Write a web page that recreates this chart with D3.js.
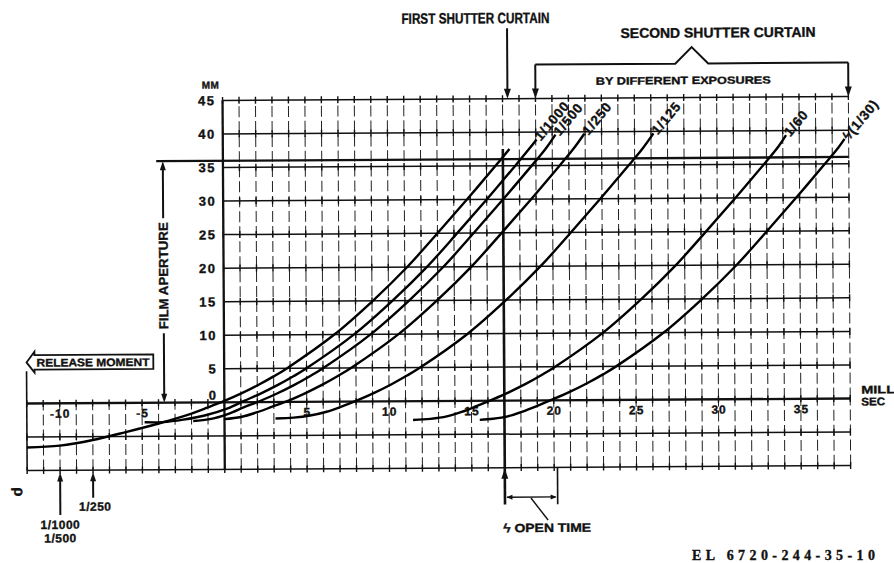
<!DOCTYPE html>
<html>
<head>
<meta charset="utf-8">
<script src="https://cdnjs.cloudflare.com/ajax/libs/d3/7.8.5/d3.min.js"></script>
<style>
  body { margin: 0; background: #fff; }
  svg text { font-family: "Liberation Sans", Arial, sans-serif; font-weight: bold; fill: #111;
             stroke: #111; stroke-width: 0.35px; }
</style>
</head>
<body>
<div id="draw"></div>
<script>
let W = 894, H = 563;

// axis ticks
let xTickValues = [-10, -5, 5, 10, 15, 20, 25, 30, 35];
let yTickValues = [0, 5, 10, 15, 20, 25, 30, 35, 40, 45];
let gridRowsTop = [5, 10, 15, 20, 25, 30, 35, 40, 45];
let gridRowsBottom = [-5, -10];

// curtain travel, [millisec, mm]
let firstCurtain = [[-12, -6.55], [-10, -6.3], [-8, -5.5], [-6, -4.35], [-4, -3.1], [-2, -1.65], [-1, -0.75], [0, 0.2], [1, 1.27], [2, 2.47], [3, 3.82], [3.8, 5], [6.7, 10], [9.05, 15], [11.15, 20], [13, 25], [14.8, 30], [16.55, 35], [17.4, 37.5]];
let curve1000 = [[-4.85, -2.9], [-3.75, -2.9], [-2.5, -2.55], [-1.2, -1.95], [0.2, -0.9], [1.2, 0.2], [2.2, 1.27], [3.2, 2.47], [4.2, 3.82], [5, 5], [7.9, 10], [10.25, 15], [12.35, 20], [14.2, 25], [16, 30], [17.75, 35], [18.6, 37.5], [19.05, 38.9]];
let curve500 = [[-1.9, -2.75], [-0.9, -2.5], [0.2, -1.75], [1.2, -0.75], [2.2, 0.2], [3.2, 1.27], [4.2, 2.47], [5.2, 3.82], [6, 5], [8.9, 10], [11.25, 15], [13.35, 20], [15.2, 25], [17, 30], [18.75, 35], [19.6, 37.5], [20.2, 39.6]];
let curve250 = [[0, -2.5], [1, -2.2], [2, -1.5], [2.9, -0.7], [3.9, 0.2], [4.9, 1.27], [5.9, 2.47], [6.9, 3.82], [7.7, 5], [10.6, 10], [12.95, 15], [15.05, 20], [16.9, 25], [18.7, 30], [20.45, 35], [21.3, 37.5], [21.95, 39.7]];
let curve125 = [[3.1, -2.45], [4.2, -2.35], [5.2, -2.05], [6.2, -1.5], [7.1, -0.75], [8.1, 0.2], [9.1, 1.27], [10.1, 2.47], [11.1, 3.82], [11.9, 5], [14.8, 10], [17.15, 15], [19.25, 20], [21.1, 25], [22.9, 30], [24.65, 35], [25.5, 37.5], [26.15, 39.7]];
let curve60 = [[11.45, -2.8], [12.5, -2.65], [13.5, -2.3], [14.4, -1.65], [15.3, -0.8], [16.3, 0.2], [17.3, 1.27], [18.3, 2.47], [19.3, 3.82], [20.1, 5], [23, 10], [25.35, 15], [27.45, 20], [29.3, 25], [31.1, 30], [32.85, 35], [33.7, 37.5], [34.2, 39.3]];
let curve30 = [[15.5, -2.85], [16.3, -2.7], [17.2, -2.35], [18.1, -1.65], [19, -0.8], [20, 0.2], [21, 1.27], [22, 2.47], [23, 3.82], [23.8, 5], [26.7, 10], [29.05, 15], [31.15, 20], [33, 25], [34.8, 30], [36.55, 35], [37.4, 37.5], [37.75, 38.7]];
let secondCurtains = [curve1000, curve500, curve250, curve125, curve60, curve30];
let curveLabels = ['1/1000', '1/500', '1/250', '1/125', '1/60', 'ϟ(1/30)'];

let filmAperture = 36;       // mm
let firstCurtainTime = 17;   // ms, first curtain passes the aperture
let openTimeEnd = 20.2;
let releaseTimes = [-10, -8];
let releaseLabels = [['1/1000', '1/500'], ['1/250']];

let svg = d3.select('#draw').append('svg').attr('width', W).attr('height', H);
let x = d3.scaleLinear().domain([-12, 38]).range([26, 849.5]);
let y = d3.scaleLinear().domain([-10, 45]).range([467.5, 98.5]);

// the scan is a little tilted
let g = svg.append('g').attr('transform', 'rotate(-0.35, 536, 280)');
let ink = '#111';

let arrowHead = function(px, py, dir, len, wid) {
  len = len || 10; wid = wid || 4;
  let p;
  if(dir === 'down') p = [[px, py], [px - wid, py - len], [px + wid, py - len]];
  if(dir === 'up') p = [[px, py], [px - wid, py + len], [px + wid, py + len]];
  if(dir === 'left') p = [[px, py], [px + len, py - wid], [px + len, py + wid]];
  if(dir === 'right') p = [[px, py], [px - len, py - wid], [px - len, py + wid]];
  g.append('path').attr('d', 'M' + p.join('L') + 'Z').attr('fill', ink);
}

// broken vertical grid lines
g.selectAll('.vtop').data(d3.range(1, 39)).enter().append('line')
  .attr('x1', d => x(d)).attr('x2', d => x(d))
  .attr('y1', y(0)).attr('y2', y(45))
  .attr('stroke', '#222').attr('stroke-width', 1).attr('stroke-dasharray', '11,4');
g.selectAll('.vbot').data(d3.range(-11, 39)).enter().append('line')
  .attr('x1', d => x(d)).attr('x2', d => x(d))
  .attr('y1', y(-10)).attr('y2', y(0))
  .attr('stroke', '#222').attr('stroke-width', 1).attr('stroke-dasharray', '11,4');

// horizontal grid lines
g.selectAll('.htop').data(gridRowsTop).enter().append('line')
  .attr('x1', x(0)).attr('x2', x(38)).attr('y1', d => y(d)).attr('y2', d => y(d))
  .attr('stroke', ink).attr('stroke-width', 1.5);
g.selectAll('.hbot').data(gridRowsBottom).enter().append('line')
  .attr('x1', x(-12)).attr('x2', x(38)).attr('y1', d => y(d)).attr('y2', d => y(d))
  .attr('stroke', ink).attr('stroke-width', 1.5);

// little + marks on every row
let marks = [];
gridRowsTop.forEach(r => d3.range(0, 39).forEach(c => marks.push([c, r])));
gridRowsBottom.concat([0]).forEach(r => d3.range(-12, 39).forEach(c => marks.push([c, r])));
g.selectAll('.mk').data(marks).enter().append('line')
  .attr('x1', d => x(d[0])).attr('x2', d => x(d[0]))
  .attr('y1', d => y(d[1]) - 3.5).attr('y2', d => y(d[1]) + 3.5)
  .attr('stroke', ink).attr('stroke-width', 1.4);

// heavy lines: axes, film aperture, first curtain time
g.append('line').attr('x1', x(-12)).attr('x2', x(38)).attr('y1', y(0)).attr('y2', y(0))
  .attr('stroke', ink).attr('stroke-width', 2.3);
g.append('line').attr('x1', x(0)).attr('x2', x(0)).attr('y1', y(-10)).attr('y2', y(45))
  .attr('stroke', ink).attr('stroke-width', 2.3);
g.append('line').attr('x1', x(-4.05)).attr('x2', x(38)).attr('y1', y(filmAperture)).attr('y2', y(filmAperture))
  .attr('stroke', ink).attr('stroke-width', 2.3);
g.append('line').attr('x1', x(firstCurtainTime)).attr('x2', x(firstCurtainTime))
  .attr('y1', y(37.5)).attr('y2', y(-15.5))
  .attr('stroke', ink).attr('stroke-width', 2.6);
g.append('line').attr('x1', x(-12)).attr('x2', x(-12)).attr('y1', y(-10)).attr('y2', y(4.8))
  .attr('stroke', ink).attr('stroke-width', 1.6);

// tick labels
let yAxis = g.append('g').attr('transform', 'translate(' + x(0) + ',0)')
  .call(d3.axisLeft(y).tickValues(yTickValues).tickSize(0).tickPadding(7));
yAxis.select('.domain').remove();
yAxis.selectAll('text').style('font-size', '13px').style('letter-spacing', '1.5px')
  .attr('font-family', null).attr('fill', ink);
yAxis.selectAll('.tick').filter(d => d === 0).select('text').attr('dy', '-0.25em');

let xAxis = g.append('g').attr('transform', 'translate(0,' + y(0) + ')')
  .call(d3.axisBottom(x).tickValues(xTickValues).tickSize(0).tickPadding(6).tickFormat(d => String(d)));
xAxis.select('.domain').remove();
xAxis.selectAll('text').style('font-size', '12px').style('letter-spacing', '1px')
  .attr('font-family', null).attr('fill', ink);

g.append('text').attr('x', x(0) - 3).attr('y', y(45) - 12).attr('text-anchor', 'end')
  .style('font-size', '10px').style('letter-spacing', '0.5px').text('MM');
g.append('text').attr('x', x(38) + 11).attr('y', y(0) - 5)
  .style('font-size', '11px').attr('textLength', 38).attr('lengthAdjust', 'spacingAndGlyphs').text('MILLI');
g.append('text').attr('x', x(38) + 11).attr('y', y(0) + 7)
  .style('font-size', '11px').attr('textLength', 24).attr('lengthAdjust', 'spacingAndGlyphs').text('SEC');

// curves
let line = d3.line().x(d => x(d[0])).y(d => y(d[1])).curve(d3.curveCatmullRom.alpha(0.5));
g.append('path').datum(firstCurtain).attr('d', line)
  .attr('fill', 'none').attr('stroke', '#000').attr('stroke-width', 2.4);
g.selectAll('.sc').data(secondCurtains).enter().append('path')
  .attr('d', line).attr('fill', 'none').attr('stroke', '#000').attr('stroke-width', 2.4);

// labels at the top end of each curve
secondCurtains.forEach(function(c, i) {
  let b = c[c.length - 1];
  g.append('text')
    .attr('transform', 'translate(' + x(b[0]) + ',' + y(b[1]) + ') rotate(-50)')
    .attr('dx', 1).attr('dy', '0.35em')
    .style('font-size', '13.5px').style('letter-spacing', '0.8px')
    .text(curveLabels[i]);
});

// first shutter curtain arrow
let fx = x(17.3);
g.append('line').attr('x1', fx).attr('x2', fx).attr('y1', 28).attr('y2', y(45) - 8)
  .attr('stroke', ink).attr('stroke-width', 2);
arrowHead(fx, y(45), 'down', 10, 3.5);
g.append('text').attr('x', 403).attr('y', 23).style('font-size', '15px')
  .attr('textLength', 148).attr('lengthAdjust', 'spacingAndGlyphs').text('FIRST SHUTTER CURTAIN');

// second curtain bracket
let by = y(45) - 34;
g.append('path')
  .attr('d', 'M' + x(19) + ',' + by + 'L' + x(27.5) + ',' + by + 'L' + x(28.5) + ',' + (by - 16.5)
    + 'L' + x(29.5) + ',' + by + 'L' + x(38) + ',' + by)
  .attr('fill', 'none').attr('stroke', ink).attr('stroke-width', 2);
[19, 38].forEach(function(t) {
  g.append('line').attr('x1', x(t)).attr('x2', x(t)).attr('y1', by).attr('y2', y(45) - 8)
    .attr('stroke', ink).attr('stroke-width', 2);
  arrowHead(x(t), y(45), 'down', 10, 3.5);
});
g.append('text').attr('x', 622).attr('y', 38.5).style('font-size', '14px')
  .attr('textLength', 195).attr('lengthAdjust', 'spacingAndGlyphs').text('SECOND SHUTTER CURTAIN');
g.append('text').attr('x', 597).attr('y', 85).style('font-size', '10.5px')
  .attr('textLength', 175).attr('lengthAdjust', 'spacingAndGlyphs').text('BY DIFFERENT EXPOSURES');

// film aperture dimension
let ax = x(-3.65);
g.append('line').attr('x1', ax).attr('x2', ax).attr('y1', y(filmAperture) + 8).attr('y2', 216)
  .attr('stroke', ink).attr('stroke-width', 2);
g.append('line').attr('x1', ax).attr('x2', ax).attr('y1', 331).attr('y2', y(0) - 8)
  .attr('stroke', ink).attr('stroke-width', 2);
arrowHead(ax, y(filmAperture), 'up', 9, 3);
arrowHead(ax, y(0), 'down', 9, 3);
g.append('text').attr('transform', 'translate(' + (ax + 4.5) + ',273.5) rotate(-90)')
  .attr('text-anchor', 'middle').style('font-size', '13px')
  .attr('textLength', 107).attr('lengthAdjust', 'spacingAndGlyphs').text('FILM APERTURE');

// release moment arrow box
let rx0 = x(-12), rx1 = x(-4.3), ry0 = y(7.2), ry1 = y(5.05);
g.append('path')
  .attr('d', 'M' + rx0 + ',' + ((ry0 + ry1) / 2) + 'L' + (rx0 + 8) + ',' + (ry0 - 3.5)
    + 'L' + (rx0 + 8) + ',' + ry0 + 'L' + rx1 + ',' + ry0 + 'L' + rx1 + ',' + ry1
    + 'L' + (rx0 + 8) + ',' + ry1 + 'L' + (rx0 + 8) + ',' + (ry1 + 3) + 'Z')
  .attr('fill', '#fff').attr('stroke', ink).attr('stroke-width', 1.8);
g.append('text').attr('x', rx0 + 10).attr('y', ry1 - 3).style('font-size', '11px')
  .attr('textLength', 113).attr('lengthAdjust', 'spacingAndGlyphs').text('RELEASE MOMENT');

// release moments for the exposures
releaseTimes.forEach(function(t, i) {
  let bottom = i === 0 ? 512 : 495;
  g.append('line').attr('x1', x(t)).attr('x2', x(t)).attr('y1', y(-10) + 8).attr('y2', bottom)
    .attr('stroke', ink).attr('stroke-width', 2);
  arrowHead(x(t), y(-10) + 2, 'up', 9, 3);
  releaseLabels[i].forEach(function(s, j) {
    g.append('text').attr('x', x(t) + (i === 0 ? 0 : 2)).attr('y', (i === 0 ? 526 : 508) + j * 13.5)
      .attr('text-anchor', 'middle').style('font-size', '12px').style('letter-spacing', '0.5px').text(s);
  });
});
g.append('text').attr('transform', 'translate(13,484) rotate(90)')
  .style('font-size', '15px').text('ρ');

// open time
let ox0 = x(firstCurtainTime), ox1 = x(openTimeEnd), oy = y(-14.4);
arrowHead(ox0, y(-10) + 1, 'up', 10, 3.5);
g.append('line').attr('x1', ox1).attr('x2', ox1).attr('y1', y(-10)).attr('y2', y(-15.5))
  .attr('stroke', ink).attr('stroke-width', 1.6);
g.append('line').attr('x1', ox0 + 2).attr('x2', ox1 - 2).attr('y1', oy).attr('y2', oy)
  .attr('stroke', ink).attr('stroke-width', 1.4);
arrowHead(ox0 + 1.5, oy, 'left', 6, 2.5);
arrowHead(ox1 - 1, oy, 'right', 6, 2.5);
g.append('line').attr('x1', ox0 + 26).attr('x2', ox0 + 43).attr('y1', oy + 1).attr('y2', oy + 23)
  .attr('stroke', ink).attr('stroke-width', 1.4);
g.append('text').attr('x', ox0 - 2).attr('y', 532).style('font-size', '12px')
  .attr('textLength', 88).attr('lengthAdjust', 'spacingAndGlyphs').text('ϟ OPEN TIME');

svg.append('text').attr('x', 692).attr('y', 560)
  .style('font-family', '"Liberation Serif", serif').style('font-size', '14px')
  .attr('textLength', 183).attr('lengthAdjust', 'spacing').text('EL 6720-244-35-10');
</script>
</body>
</html>
